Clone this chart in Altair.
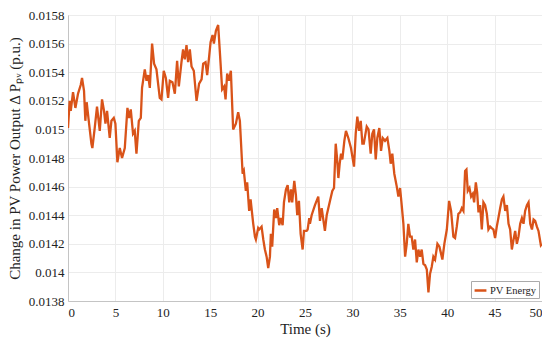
import altair as alt
import pandas as pd

time_s = [0, 0.18, 0.29, 0.53, 0.78, 1.06, 1.34, 1.48, 1.69, 1.83, 1.97, 2.19, 2.47, 2.57, 2.82,
          3.06, 3.35, 3.59, 3.80, 3.95, 4.12, 4.40, 4.58, 4.83, 5.0, 5.21, 5.46, 5.70, 5.99,
          6.27, 6.44, 6.62, 6.86, 7.04, 7.22, 7.47, 7.68, 7.81, 8.10, 8.28, 8.45, 8.63, 8.87,
          9.08, 9.33, 9.68, 9.86, 10.1, 10.32, 10.56, 10.74, 11.02, 11.27, 11.51, 11.69, 11.97,
          12.14, 12.32, 12.50, 12.67, 12.85, 13.03, 13.27, 13.56, 13.83, 14.09, 14.26, 14.51,
          14.68, 14.89, 15.04, 15.25, 15.39, 15.60, 15.84, 16.02, 16.26, 16.47, 16.62, 16.79,
          16.97, 17.18, 17.42, 17.71, 17.95, 18.13, 18.42, 18.55, 18.76, 18.90, 19.11, 19.26,
          19.54, 19.72, 19.82, 20.06, 20.17, 20.42, 20.6, 20.77, 20.95, 21.12, 21.3, 21.4,
          21.54, 21.75, 21.93, 22.07, 22.28, 22.43, 22.64, 22.78, 22.99, 23.17, 23.34, 23.52,
          23.65, 23.87, 24.04, 24.18, 24.36, 24.54, 24.75, 24.89, 25.17, 25.28, 25.45, 25.52,
          25.7, 26.05, 26.4, 26.58, 26.76, 27.1, 27.29, 27.67, 27.88, 28.06, 28.24, 28.38,
          28.52, 28.66, 28.8, 28.94, 29.15, 29.32, 29.57, 29.85, 30.17, 30.35, 30.52, 30.7,
          30.88, 31.05, 31.2, 31.51, 31.7, 31.93, 32.1, 32.28, 32.46, 32.63, 32.84, 33.02,
          33.2, 33.44, 33.69, 33.9, 34.04, 34.21, 34.42, 34.68, 34.85, 35.03, 35.2, 35.38,
          35.56, 35.73, 35.9, 36.08, 36.25, 36.43, 36.61, 36.79, 36.96, 37.14, 37.31, 37.49,
          37.67, 37.85, 38.02, 38.19, 38.37, 38.54, 38.72, 38.97, 39.18, 39.32, 39.49, 39.7,
          39.96, 40.2, 40.41, 40.65, 40.83, 41.01, 41.18, 41.36, 41.54, 41.71, 41.89, 42.03,
          42.17, 42.35, 42.52, 42.7, 42.84, 43.02, 43.16, 43.3, 43.47, 43.65, 43.82, 44.0,
          44.18, 44.35, 44.53, 44.7, 44.88, 45.05, 45.23, 45.4, 45.59, 45.77, 45.93, 46.12,
          46.3, 46.47, 46.64, 46.82, 47.0, 47.17, 47.35, 47.52, 47.7, 47.88, 48.05, 48.22,
          48.41, 48.58, 48.76, 48.94, 49.11, 49.28, 49.46, 49.63, 49.88, 50.0]

pv_output = [0.01501, 0.01520, 0.01513, 0.01526, 0.01515, 0.01525, 0.01531, 0.01536, 0.01527,
             0.01506, 0.01519, 0.01506, 0.01490, 0.01487, 0.01501, 0.01516, 0.01499, 0.01521,
             0.01513, 0.01504, 0.01513, 0.01494, 0.01506, 0.01508, 0.01504, 0.01477, 0.01487,
             0.01480, 0.01487, 0.01515, 0.01508, 0.01514, 0.01497, 0.01499, 0.01483, 0.01506,
             0.01508, 0.01529, 0.01542, 0.01534, 0.01538, 0.01529, 0.01560, 0.01546, 0.01542,
             0.01522, 0.01521, 0.01541, 0.01536, 0.01522, 0.01534, 0.01533, 0.01525, 0.01548,
             0.01530, 0.01547, 0.01556, 0.01549, 0.01559, 0.01547, 0.01556, 0.01544, 0.01541,
             0.01520, 0.01532, 0.01535, 0.01546, 0.01547, 0.01538, 0.01551, 0.01561, 0.01566,
             0.01560, 0.01569, 0.01573, 0.01554, 0.01528, 0.01530, 0.01521, 0.01539, 0.01534,
             0.01541, 0.01500, 0.01504, 0.01512, 0.01506, 0.01469, 0.01471, 0.01457, 0.01463,
             0.01443, 0.01451, 0.01434, 0.01425, 0.01423, 0.01431, 0.01430, 0.01432, 0.01423,
             0.01416, 0.01411, 0.01403, 0.01411, 0.01427, 0.01418, 0.01444, 0.01438, 0.01445,
             0.01433, 0.01438, 0.01433, 0.01449, 0.01458, 0.01461, 0.01449, 0.01458, 0.01449,
             0.01464, 0.01454, 0.01440, 0.01450, 0.01427, 0.01416, 0.01429, 0.01429, 0.01430,
             0.01438, 0.01434, 0.01440, 0.01447, 0.01453, 0.01436, 0.01445, 0.01429, 0.01440,
             0.01451, 0.01457, 0.01459, 0.01490, 0.01480, 0.01466, 0.01476, 0.01483, 0.01479,
             0.01492, 0.01499, 0.01494, 0.01487, 0.01474, 0.01497, 0.01509, 0.01499, 0.01506,
             0.01490, 0.01490, 0.01502, 0.01500, 0.01483, 0.01497, 0.01500, 0.01479, 0.01494,
             0.01501, 0.01485, 0.01494, 0.01492, 0.01494, 0.01485, 0.01476, 0.01483, 0.01469,
             0.01460, 0.01453, 0.01459, 0.01447, 0.01434, 0.01411, 0.01420, 0.01434, 0.01425,
             0.01425, 0.01416, 0.01423, 0.01407, 0.01416, 0.01411, 0.01416, 0.01406, 0.01405,
             0.01402, 0.01386, 0.01399, 0.01404, 0.01411, 0.01409, 0.01420, 0.01418, 0.01414,
             0.01409, 0.01420, 0.01430, 0.01450, 0.01443, 0.01425, 0.01424, 0.01432, 0.01441,
             0.01442, 0.01445, 0.01443, 0.01471, 0.01472, 0.01457, 0.01459, 0.01453, 0.01455,
             0.01449, 0.01463, 0.01456, 0.01442, 0.01447, 0.01430, 0.01449, 0.01447, 0.01441,
             0.01430, 0.01432, 0.01431, 0.01430, 0.01424, 0.01432, 0.01438, 0.01445, 0.01451,
             0.01453, 0.01443, 0.01447, 0.01434, 0.01430, 0.01416, 0.01423, 0.01429, 0.01420,
             0.01425, 0.01434, 0.01438, 0.01434, 0.01443, 0.01447, 0.01449, 0.01434, 0.01430,
             0.01437, 0.01436, 0.01432, 0.01429, 0.01419, 0.01420]

series_name = "PV Energy"

df = pd.DataFrame({"t": time_s, "p": pv_output, "series": series_name})

FONT = "Liberation Serif"

x_ticks = [0, 5, 10, 15, 20, 25, 30, 35, 40, 45, 50]
y_ticks = [0.0138, 0.014, 0.0142, 0.0144, 0.0146, 0.0148, 0.015, 0.0152, 0.0154, 0.0156, 0.0158]

chart = alt.Chart(df).mark_line(strokeWidth=2.3, clip=True).encode(
    x=alt.X("t:Q", scale=alt.Scale(domain=[0, 50], nice=False),
            axis=alt.Axis(title="Time (s)", values=x_ticks, format="d",
                          labelFont=FONT, titleFont=FONT)),
    y=alt.Y("p:Q", scale=alt.Scale(domain=[0.0138, 0.0158], nice=False, zero=False),
            axis=alt.Axis(title="Change in PV Power Output Δ Pₚᵥ (p.u.)", values=y_ticks,
                          format="~g", labelFont=FONT, titleFont=FONT)),
    color=alt.Color("series:N", scale=alt.Scale(range=["#D95319"]),
                    legend=alt.Legend(title=None, orient="bottom-right", offset=3,
                                      symbolType="stroke", symbolStrokeWidth=2.5,
                                      symbolSize=140, labelFont=FONT, labelFontSize=10.5,
                                      labelColor="#222222", labelOffset=2,
                                      fillColor="white", strokeColor="#aaaaaa",
                                      padding=2, cornerRadius=0)),
).properties(
    width=474, height=286,
    autosize=alt.AutoSizeParams(type="none"),
    padding={"left": 60, "top": 7, "right": 0, "bottom": 39},
).configure_view(
    stroke="#c4c4c4", strokeWidth=1
).configure_axis(
    labelFont=FONT, titleFont=FONT, labelFontSize=13, titleFontSize=15,
    labelColor="#222222", titleColor="#222222", titleFontWeight="normal",
    domainColor="#c4c4c4", gridColor="#ececec", ticks=False, labelPadding=4,
).configure_axisY(
    titlePadding=6
).configure_axisX(
    titlePadding=2, labelPadding=5
)

chart.save("out.html", embed_options={"renderer": "svg", "actions": False})
